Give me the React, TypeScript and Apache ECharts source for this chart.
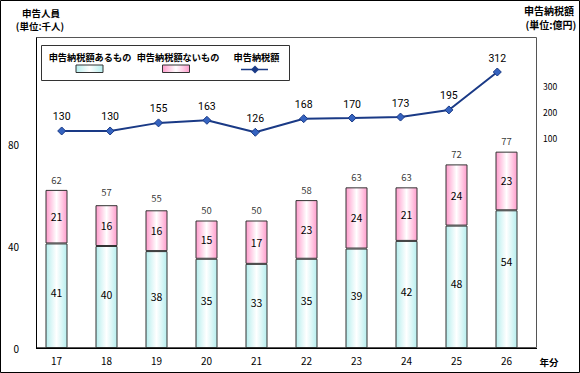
import React, { useEffect, useRef } from "react";
import * as echarts from "echarts";

const categories = ["17", "18", "19", "20", "21", "22", "23", "24", "25", "26"];
const withTax = [41, 40, 38, 35, 33, 35, 39, 42, 48, 54];
const withoutTax = [21, 16, 16, 15, 17, 23, 24, 21, 24, 23];
const totals = [62, 57, 55, 50, 50, 58, 63, 63, 72, 77];
const taxAmount = [130, 130, 155, 163, 126, 168, 170, 173, 195, 312];
const rightTicks = [100, 200, 300];

const JP = '"Noto Sans CJK JP", "Noto Sans", sans-serif';

export default function App() {
  const ref = useRef<HTMLDivElement>(null);
  useEffect(() => {
    document.body.style.margin = "0";
    const chart = echarts.init(ref.current!, null, { renderer: "svg" });
    const cyan = new echarts.graphic.LinearGradient(0, 0, 1, 0, [
      { offset: 0, color: "#B6EEEE" },
      { offset: 0.5, color: "#FFFFFF" },
      { offset: 1, color: "#B6EEEE" },
    ]);
    const pink = new echarts.graphic.LinearGradient(0, 0, 1, 0, [
      { offset: 0, color: "#FF9CCC" },
      { offset: 0.5, color: "#FFFFFF" },
      { offset: 1, color: "#FF9CCC" },
    ]);
    const txt = (text: string, x: number, y: number, size: number, align = "center") => ({
      type: "text",
      style: {
        text,
        x,
        y,
        fill: "#000",
        font: `bold ${size}px ${JP}`,
        textAlign: align,
        textVerticalAlign: "middle",
      },
      z: 100,
    });
    chart.setOption({
      animation: false,
      backgroundColor: "#fff",
      grid: [
        { left: 31.5, right: 48.5, top: 42, bottom: 25 },
        { left: 37.5, right: 58.5, top: 59.7, bottom: 232.3 },
        { left: 36, right: 43, top: 86, bottom: 208.7 },
      ],
      xAxis: [
        {
          type: "category",
          gridIndex: 0,
          data: categories,
          axisLine: { show: false },
          axisTick: { show: false },
          axisLabel: { fontSize: 10, color: "#000", margin: 7, fontFamily: JP },
        },
        { type: "category", gridIndex: 1, data: categories, show: false },
        { type: "value", gridIndex: 2, show: false, min: 0, max: 1 },
      ],
      yAxis: [
        {
          type: "value",
          gridIndex: 0,
          min: 0,
          max: 120,
          interval: 40,
          axisLine: { show: false },
          axisTick: { show: false },
          splitLine: { show: false },
          axisLabel: {
            fontSize: 10,
            color: "#000",
            margin: 12.5,
            fontFamily: JP,
            formatter: (v: number) => (v >= 120 ? "" : String(v)),
          },
        },
        { type: "value", gridIndex: 1, min: 100, max: 350, show: false },
        {
          type: "value",
          gridIndex: 2,
          position: "right",
          min: 0,
          max: 300,
          interval: 100,
          axisLine: { show: false },
          axisTick: { show: false },
          splitLine: { show: false },
          axisLabel: {
            fontSize: 8.5,
            color: "#000",
            margin: 6,
            fontFamily: JP,
            formatter: (v: number) => (rightTicks.includes(v) ? String(v) : ""),
          },
        },
      ],
      series: [
        {
          name: "申告納税額あるもの",
          type: "bar",
          stack: "p",
          xAxisIndex: 0,
          yAxisIndex: 0,
          barWidth: 22,
          data: withTax.map((v, i) =>
            i === withTax.length - 1 ? { value: v, label: { offset: [0, -18] } } : v
          ),
          itemStyle: { color: cyan, borderColor: "#333", borderWidth: 1 },
          label: {
            show: true,
            position: "inside",
            offset: [0, -3],
            fontSize: 10.5,
            color: "#000",
            fontFamily: JP,
          },
        },
        {
          name: "申告納税額ないもの",
          type: "bar",
          stack: "p",
          xAxisIndex: 0,
          yAxisIndex: 0,
          barWidth: 22,
          data: withoutTax,
          itemStyle: { color: pink, borderColor: "#333", borderWidth: 1 },
          label: {
            show: true,
            position: "inside",
            fontSize: 10.5,
            color: "#000",
            fontFamily: JP,
          },
        },
        {
          name: "合計",
          type: "scatter",
          xAxisIndex: 0,
          yAxisIndex: 0,
          data: totals,
          symbolSize: 1,
          itemStyle: { color: "rgba(0,0,0,0)" },
          label: {
            show: true,
            position: "top",
            distance: 5,
            fontSize: 9.5,
            color: "#000",
            fontFamily: JP,
          },
          z: 5,
        },
        {
          name: "申告納税額",
          type: "line",
          xAxisIndex: 1,
          yAxisIndex: 1,
          data: taxAmount,
          symbol: "diamond",
          symbolSize: 8,
          lineStyle: { color: "#1A3A86", width: 2 },
          itemStyle: { color: "#3563C0", borderColor: "#1A3A86", borderWidth: 1 },
          label: {
            show: true,
            position: "top",
            distance: 4,
            fontSize: 10.5,
            color: "#000",
            fontFamily: "Roboto, sans-serif",
          },
          z: 10,
        },
      ],
      graphic: [
        {
          type: "rect",
          shape: { x: 0.5, y: 0.5, width: 579, height: 372 },
          style: { fill: "none", stroke: "#000", lineWidth: 1 },
          silent: true,
        },
        {
          type: "rect",
          shape: { x: 36.5, y: 37.5, width: 500, height: 310 },
          style: { fill: "none", stroke: "#555", lineWidth: 1 },
          silent: true,
          z: 1,
        },
        {
          type: "line",
          shape: { x1: 36.5, y1: 37.5, x2: 36.5, y2: 348.5 },
          style: { stroke: "#000", lineWidth: 1 },
          z: 50,
        },
        {
          type: "line",
          shape: { x1: 36, y1: 348.5, x2: 537, y2: 348.5 },
          style: { stroke: "#000", lineWidth: 1 },
          z: 50,
        },
        {
          type: "rect",
          shape: { x: 41.5, y: 45.5, width: 248, height: 35 },
          style: { fill: "#fff", stroke: "#333", lineWidth: 1 },
          z: 60,
        },
        txt("申告納税額あるもの", 90, 56.5, 9.2),
        txt("申告納税額ないもの", 178, 56.5, 9.2),
        txt("申告納税額", 256.5, 57, 9.2),
        {
          type: "rect",
          shape: { x: 76, y: 65, width: 27, height: 7.5 },
          style: { fill: cyan, stroke: "#333", lineWidth: 1 },
          z: 100,
        },
        {
          type: "rect",
          shape: { x: 162.5, y: 65, width: 27, height: 7.5 },
          style: { fill: pink, stroke: "#333", lineWidth: 1 },
          z: 100,
        },
        {
          type: "line",
          shape: { x1: 241, y1: 69.5, x2: 268, y2: 69.5 },
          style: { stroke: "#1A3A86", lineWidth: 1.5 },
          z: 100,
        },
        {
          type: "polygon",
          shape: { points: [[255, 65.5], [259, 69.5], [255, 73.5], [251, 69.5]] },
          style: { fill: "#1A3A86" },
          z: 101,
        },
        txt("申告人員", 41, 13, 9.5),
        txt("(単位:千人)", 40, 26, 9.5),
        txt("申告納税額", 549, 10.5, 10),
        txt("(単位:億円)", 551, 24.5, 10),
        txt("年分", 549, 362, 9.5),
      ],
    });
    return () => chart.dispose();
  }, []);
  return (
    <div
      ref={ref}
      style={{ position: "fixed", left: 0, top: 0, width: 580, height: 373 }}
    />
  );
}
